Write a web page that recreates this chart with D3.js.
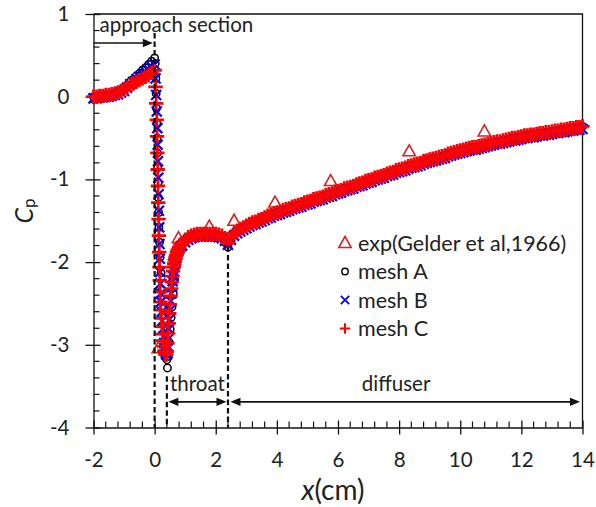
<!DOCTYPE html>
<html>
<head>
<meta charset="utf-8">
<script src="https://cdn.jsdelivr.net/npm/d3@7"></script>
<style>
  html, body { margin: 0; padding: 0; background: #fff; }
  svg { display: block; font-family: Lato, "Open Sans", sans-serif; }
</style>
</head>
<body>
<svg id="chart" width="596" height="507"></svg>
<script>
// ---------- axis ticks and series names ----------
const xTicks = [-2, 0, 2, 4, 6, 8, 10, 12, 14];
const yTicks = [1, 0, -1, -2, -3, -4];
const seriesNames = ["exp(Gelder et al,1966)", "mesh A", "mesh B", "mesh C"];

// ---------- experiment ----------
const expX  = [0.12, 0.78, 1.79, 2.60, 3.94, 5.76, 8.33, 10.79];
const expCp = [-3.04, -1.71, -1.57, -1.50, -1.28, -1.02, -0.66, -0.42];

// ---------- approach section (shared stations) ----------
const xApproach   = [-2.0,-1.9,-1.8,-1.7,-1.6,-1.5,-1.4,-1.3,-1.2,-1.1,-1.0,-0.9,-0.8,-0.7,-0.6,-0.5,-0.4,-0.3,-0.2,-0.1,0.0];
const cpApproachA = [0.00,0.00,0.01,0.01,0.02,0.02,0.03,0.04,0.05,0.08,0.11,0.14,0.18,0.21,0.25,0.28,0.32,0.35,0.39,0.43,0.47];
const cpApproachB = [-0.02,-0.02,-0.01,-0.01,0.00,0.00,0.01,0.02,0.03,0.05,0.07,0.11,0.15,0.18,0.21,0.24,0.27,0.30,0.33,0.36,0.39];
const cpApproachC = [0.00,0.00,0.01,0.01,0.02,0.02,0.03,0.04,0.05,0.07,0.09,0.11,0.14,0.16,0.18,0.20,0.22,0.24,0.26,0.29,0.32];

// ---------- contraction drop into the throat ----------
const xDropA  = [0.02,0.04,0.05,0.06,0.07,0.08,0.09,0.10,0.11,0.12,0.13,0.14,0.16,0.18,0.21,0.25,0.29,0.33,0.37,0.40,0.42];
const cpDropA = [0.40,0.22,0.04,-0.14,-0.32,-0.50,-0.68,-0.86,-1.04,-1.22,-1.40,-1.58,-1.76,-1.94,-2.13,-2.34,-2.56,-2.78,-3.00,-3.18,-3.28];
const xDropB  = [0.03,0.05,0.07,0.09,0.10,0.11,0.12,0.13,0.14,0.15,0.16,0.17,0.18,0.19,0.20,0.21,0.23,0.25,0.27,0.29,0.31,0.33,0.35,0.37,0.39,0.41];
const cpDropB = [0.22,0.02,-0.18,-0.38,-0.58,-0.78,-0.98,-1.18,-1.38,-1.58,-1.78,-1.96,-2.12,-2.26,-2.38,-2.48,-2.60,-2.71,-2.81,-2.90,-2.98,-3.04,-3.08,-3.11,-3.12,-3.11];
const xDropC  = [0.03,0.05,0.07,0.08,0.09,0.10,0.11,0.12,0.13,0.14,0.15,0.16,0.17,0.18,0.19,0.20,0.22,0.24,0.26,0.28,0.30,0.32,0.34,0.36,0.38];
const cpDropC = [0.12,-0.08,-0.28,-0.48,-0.68,-0.88,-1.08,-1.28,-1.48,-1.68,-1.88,-2.06,-2.22,-2.36,-2.48,-2.58,-2.68,-2.78,-2.87,-2.95,-3.02,-3.07,-3.10,-3.12,-3.12];

// ---------- recovery at the throat entrance ----------
const xRecA  = [0.45,0.48,0.51,0.54,0.57,0.61,0.65,0.70,0.76,0.83];
const cpRecA = [-3.14,-2.97,-2.81,-2.67,-2.54,-2.38,-2.21,-2.05,-1.93,-1.84];
const xRecB  = [0.43,0.45,0.47,0.49,0.51,0.53,0.55,0.57,0.59,0.61,0.63,0.65,0.67,0.69,0.71,0.74,0.77,0.81,0.86];
const cpRecB = [-3.04,-2.93,-2.81,-2.69,-2.58,-2.47,-2.38,-2.30,-2.23,-2.17,-2.11,-2.06,-2.02,-1.98,-1.95,-1.91,-1.87,-1.84,-1.81];
const xRecC  = [0.40,0.42,0.44,0.46,0.48,0.50,0.52,0.54,0.56,0.58,0.60,0.62,0.64,0.66,0.68,0.70,0.73,0.76,0.80,0.85];
const cpRecC = [-3.08,-2.98,-2.86,-2.74,-2.62,-2.51,-2.41,-2.32,-2.24,-2.17,-2.11,-2.06,-2.02,-1.98,-1.95,-1.92,-1.88,-1.85,-1.82,-1.79];

// ---------- throat plateau and diffuser (shared stations) ----------
const xMain = [
  0.9,1.0,1.1,1.2,1.3,1.4,1.5,1.6,1.7,1.8,
  1.9,2.0,2.1,2.2,2.3,2.4,2.5,2.6,2.7,2.8,
  2.9,3.0,3.1,3.2,3.3,3.4,3.5,3.6,3.7,3.8,
  3.9,4.0,4.1,4.2,4.3,4.4,4.5,4.6,4.7,4.8,
  4.9,5.0,5.1,5.2,5.3,5.4,5.5,5.6,5.7,5.8,
  5.9,6.0,6.1,6.2,6.3,6.4,6.5,6.6,6.7,6.8,
  6.9,7.0,7.1,7.2,7.3,7.4,7.5,7.6,7.7,7.8,
  7.9,8.0,8.1,8.2,8.3,8.4,8.5,8.6,8.7,8.8,
  8.9,9.0,9.1,9.2,9.3,9.4,9.5,9.6,9.7,9.8,
  9.9,10.0,10.1,10.2,10.3,10.4,10.5,10.6,10.7,10.8,
  10.9,11.0,11.1,11.2,11.3,11.4,11.5,11.6,11.7,11.8,
  11.9,12.0,12.1,12.2,12.3,12.4,12.5,12.6,12.7,12.8,
  12.9,13.0,13.1,13.2,13.3,13.4,13.5,13.6,13.7,13.8,
  13.9,14.0];
const cpMainA = [
  -1.78,-1.74,-1.70,-1.68,-1.67,-1.66,-1.66,-1.66,-1.66,-1.66,
  -1.66,-1.67,-1.68,-1.71,-1.76,-1.82,-1.74,-1.66,-1.62,-1.60,
  -1.58,-1.56,-1.54,-1.52,-1.51,-1.49,-1.48,-1.46,-1.44,-1.43,
  -1.41,-1.40,-1.39,-1.37,-1.36,-1.35,-1.33,-1.32,-1.31,-1.30,
  -1.28,-1.27,-1.26,-1.24,-1.23,-1.22,-1.21,-1.19,-1.18,-1.17,
  -1.15,-1.14,-1.13,-1.11,-1.10,-1.09,-1.08,-1.06,-1.05,-1.04,
  -1.02,-1.01,-1.00,-0.98,-0.97,-0.96,-0.95,-0.93,-0.92,-0.91,
  -0.89,-0.88,-0.87,-0.86,-0.84,-0.83,-0.82,-0.81,-0.80,-0.78,
  -0.77,-0.76,-0.75,-0.74,-0.73,-0.72,-0.71,-0.69,-0.68,-0.67,
  -0.66,-0.65,-0.64,-0.63,-0.62,-0.61,-0.61,-0.60,-0.59,-0.58,
  -0.57,-0.56,-0.55,-0.54,-0.54,-0.53,-0.52,-0.51,-0.50,-0.50,
  -0.49,-0.48,-0.47,-0.47,-0.46,-0.46,-0.45,-0.44,-0.44,-0.43,
  -0.43,-0.42,-0.41,-0.41,-0.40,-0.40,-0.39,-0.38,-0.38,-0.37,
  -0.37,-0.36];
const cpMainB = [
  -1.80,-1.76,-1.73,-1.71,-1.70,-1.69,-1.69,-1.69,-1.69,-1.69,
  -1.69,-1.69,-1.70,-1.71,-1.74,-1.79,-1.73,-1.68,-1.65,-1.63,
  -1.61,-1.59,-1.57,-1.55,-1.54,-1.52,-1.51,-1.49,-1.47,-1.46,
  -1.44,-1.43,-1.42,-1.40,-1.39,-1.38,-1.36,-1.35,-1.34,-1.33,
  -1.31,-1.30,-1.29,-1.27,-1.26,-1.25,-1.24,-1.22,-1.21,-1.20,
  -1.18,-1.17,-1.16,-1.14,-1.13,-1.12,-1.11,-1.09,-1.08,-1.07,
  -1.05,-1.04,-1.03,-1.01,-1.00,-0.99,-0.98,-0.96,-0.95,-0.94,
  -0.92,-0.91,-0.90,-0.89,-0.87,-0.86,-0.85,-0.84,-0.83,-0.81,
  -0.80,-0.79,-0.78,-0.77,-0.76,-0.75,-0.74,-0.72,-0.71,-0.70,
  -0.69,-0.68,-0.67,-0.66,-0.65,-0.64,-0.64,-0.63,-0.62,-0.61,
  -0.60,-0.59,-0.58,-0.57,-0.57,-0.56,-0.55,-0.54,-0.53,-0.53,
  -0.52,-0.51,-0.50,-0.50,-0.49,-0.49,-0.48,-0.47,-0.47,-0.46,
  -0.46,-0.45,-0.44,-0.44,-0.43,-0.43,-0.42,-0.41,-0.41,-0.40,
  -0.40,-0.39];
const cpMainC = [
  -1.77,-1.73,-1.70,-1.68,-1.67,-1.66,-1.66,-1.66,-1.66,-1.66,
  -1.66,-1.66,-1.67,-1.68,-1.71,-1.77,-1.70,-1.65,-1.62,-1.60,
  -1.58,-1.56,-1.54,-1.52,-1.51,-1.49,-1.48,-1.46,-1.44,-1.43,
  -1.41,-1.40,-1.39,-1.37,-1.36,-1.35,-1.33,-1.32,-1.31,-1.30,
  -1.28,-1.27,-1.26,-1.24,-1.23,-1.22,-1.21,-1.19,-1.18,-1.17,
  -1.15,-1.14,-1.13,-1.11,-1.10,-1.09,-1.08,-1.06,-1.05,-1.04,
  -1.02,-1.01,-1.00,-0.98,-0.97,-0.96,-0.95,-0.93,-0.92,-0.91,
  -0.89,-0.88,-0.87,-0.86,-0.84,-0.83,-0.82,-0.81,-0.80,-0.78,
  -0.77,-0.76,-0.75,-0.74,-0.73,-0.72,-0.71,-0.69,-0.68,-0.67,
  -0.66,-0.65,-0.64,-0.63,-0.62,-0.61,-0.61,-0.60,-0.59,-0.58,
  -0.57,-0.56,-0.55,-0.54,-0.54,-0.53,-0.52,-0.51,-0.50,-0.50,
  -0.49,-0.48,-0.47,-0.47,-0.46,-0.46,-0.45,-0.44,-0.44,-0.43,
  -0.43,-0.42,-0.41,-0.41,-0.40,-0.40,-0.39,-0.38,-0.38,-0.37,
  -0.37,-0.36];

// ---------- section boundaries (cm) ----------
const throatStart = 0.4;
const throatEnd = 2.4;

// ---------- scales ----------
const svg = d3.select("#chart");
const x = d3.scaleLinear().domain([-2, 14]).range([93.5, 582.5]);
const y = d3.scaleLinear().domain([-4, 1]).range([427.5, 14]);
const ink = "#111";
const textInk = "#222";

// ---------- frame ----------
svg.append("path")
  .attr("d", `M${x(-2)},${y(1)}H${x(14)}V${y(-4)}`)
  .attr("fill", "none").attr("stroke", ink).attr("stroke-width", 1.3);

// ---------- x axis ----------
const gx = svg.append("g")
  .attr("transform", `translate(0,${y(-4)})`)
  .call(d3.axisBottom(x).tickValues(xTicks).tickSize(7).tickSizeOuter(0)
        .tickPadding(18).tickFormat(d => String(d)));
gx.attr("font-family", null).attr("font-size", 20.5);
gx.select(".domain").attr("stroke", ink).attr("stroke-width", 1.3);
gx.selectAll(".tick line").attr("y1", -7).attr("stroke", ink).attr("stroke-width", 1.3);
gx.selectAll(".tick text").attr("fill", textInk);
const xMinor = d3.range(0, 41).map(i => -2 + 0.4 * i)
  .filter(v => Math.abs(v / 2 - Math.round(v / 2)) > 1e-6);
gx.selectAll("line.minor").data(xMinor).join("line").attr("class", "minor")
  .attr("x1", d => x(d)).attr("x2", d => x(d)).attr("y1", 0).attr("y2", -6)
  .attr("stroke", ink).attr("stroke-width", 1.2);

// ---------- y axis ----------
const gy = svg.append("g")
  .attr("transform", `translate(${x(-2)},0)`)
  .call(d3.axisLeft(y).tickValues(yTicks).tickSize(8).tickSizeOuter(0)
        .tickPadding(16).tickFormat(d => String(d)));
gy.attr("font-family", null).attr("font-size", 20.5);
gy.select(".domain").attr("stroke", ink).attr("stroke-width", 1.3);
gy.selectAll(".tick line").attr("x1", 7).attr("stroke", ink).attr("stroke-width", 1.3);
gy.selectAll(".tick text").attr("fill", textInk);
const yMinor = d3.range(0, 26).map(i => -4 + 0.2 * i)
  .filter(v => Math.abs(v - Math.round(v)) > 1e-6);
gy.selectAll("line.minor").data(yMinor).join("line").attr("class", "minor")
  .attr("y1", d => y(d)).attr("y2", d => y(d)).attr("x1", 0).attr("x2", 6)
  .attr("stroke", ink).attr("stroke-width", 1.2);

// ---------- axis titles ----------
const cpTitle = svg.append("text")
  .attr("transform", "translate(33,211) rotate(-90)")
  .attr("text-anchor", "middle").attr("fill", textInk).attr("font-size", 25);
cpTitle.append("tspan").attr("font-style", "italic").text("C");
cpTitle.append("tspan").attr("font-size", 17).attr("dy", 2).text("p");

const xTitle = svg.append("text")
  .attr("x", 333).attr("y", 500)
  .attr("text-anchor", "middle").attr("fill", textInk).attr("font-size", 28);
xTitle.append("tspan").attr("font-style", "italic").text("x");
xTitle.append("tspan").text("(cm)");

// ---------- marker shapes ----------
const triPath   = "M0,-6.5L6.2,4.5L-6.2,4.5Z";
const timesPath = s => `M${-s},${-s}L${s},${s}M${-s},${s}L${s},${-s}`;
const plusPath  = s => `M${-s},0H${s}M0,${-s}V${s}`;

const pts = (xs, ys) => d3.zip(xs, ys);
const meshA = [].concat(pts(xApproach, cpApproachA), pts(xDropA, cpDropA), pts(xRecA, cpRecA), pts(xMain, cpMainA));
const meshB = [].concat(pts(xApproach, cpApproachB), pts(xDropB, cpDropB), pts(xRecB, cpRecB), pts(xMain, cpMainB));
const meshC = [].concat(pts(xApproach, cpApproachC), pts(xDropC, cpDropC), pts(xRecC, cpRecC), pts(xMain, cpMainC));
const expPts = pts(expX, expCp);

const plot = svg.append("g");

plot.append("g").selectAll("path").data(expPts).join("path")
  .attr("transform", d => `translate(${x(d[0])},${y(d[1])})`)
  .attr("d", triPath).attr("fill", "none").attr("stroke", "#d42424").attr("stroke-width", 1.6);

plot.append("g").selectAll("circle").data(meshA).join("circle")
  .attr("cx", d => x(d[0])).attr("cy", d => y(d[1])).attr("r", 3.7)
  .attr("fill", "none").attr("stroke", "#000").attr("stroke-width", 1.5);

plot.append("g").selectAll("path").data(meshB).join("path")
  .attr("transform", d => `translate(${x(d[0])},${y(d[1])})`)
  .attr("d", timesPath(5)).attr("fill", "none").attr("stroke", "#0000ff").attr("stroke-width", 2.2);

plot.append("g").selectAll("path").data(meshC).join("path")
  .attr("transform", d => `translate(${x(d[0])},${y(d[1])})`)
  .attr("d", plusPath(5.8)).attr("fill", "none").attr("stroke", "#ff0000")
  .attr("stroke-width", 2.8).attr("stroke-linecap", "square");

// ---------- section annotations ----------
const notes = svg.append("g");
const dashed = (xv, top) => notes.append("line")
  .attr("x1", x(xv)).attr("x2", x(xv)).attr("y1", y(top)).attr("y2", y(-4))
  .attr("stroke", ink).attr("stroke-width", 2.2).attr("stroke-dasharray", "5.5,3");
dashed(0, 0.77);
dashed(throatStart, -3.38);
dashed(throatEnd, -1.81);

const head = (px, py, dir) => notes.append("path")
  .attr("d", `M${px},${py}L${px - dir * 10},${py - 4.2}L${px - dir * 10},${py + 4.2}Z`)
  .attr("fill", ink);
const hline = (x1, x2, py) => notes.append("line")
  .attr("x1", x1).attr("x2", x2).attr("y1", py).attr("y2", py)
  .attr("stroke", ink).attr("stroke-width", 1.6);

// approach section arrow
const ay = y(0.65);
hline(x(-2), x(-0.06) - 6, ay);
head(x(-0.06), ay, 1);
notes.append("text").attr("x", x(-1.8)).attr("y", y(0.78))
  .attr("font-size", 20.5).attr("fill", textInk).text("approach section");

// throat and diffuser arrows
const by = y(-3.69);
const tL = x(throatStart) + 1.5, tR = x(throatEnd) - 1.5;
hline(tL + 6, tR - 6, by); head(tL, by, -1); head(tR, by, 1);
const dL = x(throatEnd) + 2.5, dR = x(14) - 2.5;
hline(dL + 6, dR - 6, by); head(dL, by, -1); head(dR, by, 1);
notes.append("text").attr("x", x(1.4)).attr("y", y(-3.56))
  .attr("text-anchor", "middle").attr("font-size", 20.5).attr("fill", textInk).text("throat");
notes.append("text").attr("x", x(7.9)).attr("y", y(-3.56))
  .attr("text-anchor", "middle").attr("font-size", 20.5).attr("fill", textInk).text("diffuser");

// ---------- legend ----------
const legend = svg.append("g");
const legendMarks = [
  g => g.append("path").attr("d", triPath).attr("fill", "none").attr("stroke", "#d42424").attr("stroke-width", 1.6),
  g => g.append("circle").attr("r", 3.2).attr("fill", "none").attr("stroke", "#000").attr("stroke-width", 1.4),
  g => g.append("path").attr("d", timesPath(4.2)).attr("fill", "none").attr("stroke", "#0000ff").attr("stroke-width", 1.8),
  g => g.append("path").attr("d", plusPath(5.2)).attr("fill", "none").attr("stroke", "#ff0000").attr("stroke-width", 2)
];
seriesNames.forEach((name, i) => {
  const ly = 243 + i * 28.5;
  const mg = legend.append("g").attr("transform", `translate(345,${ly})`);
  legendMarks[i](mg);
  legend.append("text").attr("x", 358).attr("y", ly).attr("dy", "0.36em")
    .attr("font-size", 21.5).attr("fill", textInk).text(name);
});
</script>
</body>
</html>
